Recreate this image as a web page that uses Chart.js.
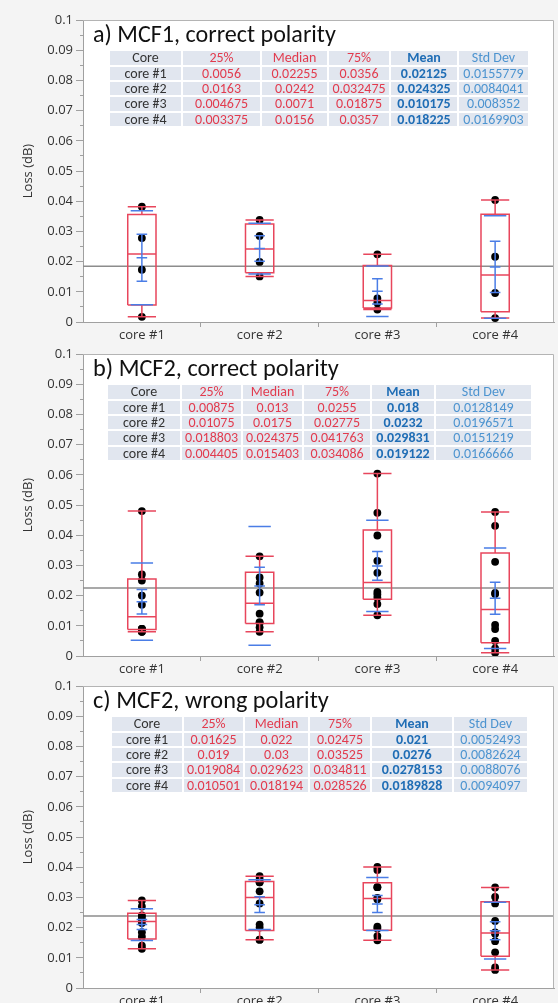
<!DOCTYPE html>
<html><head><meta charset="utf-8">
<script src="https://cdn.jsdelivr.net/npm/chart.js@4.4.1/dist/chart.umd.min.js"></script>
<style>
html,body{margin:0;padding:0;background:#f4f4f4;}
#wrap{position:relative;width:558px;height:1003px;overflow:hidden;}
canvas{position:absolute;left:0;}
.ttl{position:absolute;font-family:Carlito,Lato,sans-serif;color:#111;white-space:nowrap;line-height:1;z-index:2;}
table.st{position:absolute;border-collapse:separate;border-spacing:2px;table-layout:fixed;font-family:Carlito,Lato,sans-serif;font-size:14px;z-index:2;background:#fff;}
table.st td{background:#e1e6ef;text-align:center;padding:0;height:13.3px;line-height:13.3px;white-space:nowrap;overflow:hidden;color:#333;}
td.r{color:#e23b4e!important;}
td.m{color:#1f6db5!important;font-weight:bold;}
td.s{color:#4d94d0!important;}
</style></head>
<body><div id="wrap"></div>
<script>
// ---------- data ----------
const categories = ['core #1','core #2','core #3','core #4'];
const yTickValues = [0,0.01,0.02,0.03,0.04,0.05,0.06,0.07,0.08,0.09,0.1];
const yMinorValues = [0.005,0.015,0.025,0.035,0.045,0.055,0.065,0.075,0.085,0.095];
const panelTitles = ['a) MCF1, correct polarity','b) MCF2, correct polarity','c) MCF2, wrong polarity'];
const tableHeader = ['Core','25%','Median','75%','Mean','Std Dev'];
const yAxisTitle = 'Loss (dB)';

// panel a
const a_q1     = [0.0056, 0.0163, 0.004675, 0.003375];
const a_median = [0.02255, 0.0242, 0.0071, 0.0156];
const a_q3     = [0.0356, 0.032475, 0.01875, 0.0357];
const a_mean   = [0.02125, 0.024325, 0.010175, 0.018225];
const a_sd     = [0.0155779, 0.0084041, 0.008352, 0.0169903];
const a_core1 = [0.0017, 0.0173, 0.0278, 0.0382];
const a_core2 = [0.0151, 0.0199, 0.0285, 0.0338];
const a_core3 = [0.0041, 0.0064, 0.0078, 0.0224];
const a_core4 = [0.0013, 0.0096, 0.0216, 0.0404];

// panel b
const b_q1     = [0.00875, 0.01075, 0.018803, 0.004405];
const b_median = [0.013, 0.0175, 0.024375, 0.015403];
const b_q3     = [0.0255, 0.02775, 0.041763, 0.034086];
const b_mean   = [0.018, 0.0232, 0.029831, 0.019122];
const b_sd     = [0.0128149, 0.0196571, 0.0151219, 0.0166666];
const b_core1 = [0.008, 0.008, 0.009, 0.009, 0.009, 0.017, 0.020, 0.025, 0.027, 0.048];
const b_core2 = [0.008, 0.0095, 0.0112, 0.011, 0.014, 0.021, 0.024, 0.026, 0.033, 0.0743];
const b_core3 = [0.0135, 0.0172, 0.0193, 0.0204, 0.0212, 0.02755, 0.0315, 0.0399, 0.0474, 0.0604];
const b_core4 = [0.0011, 0.0025, 0.005, 0.0089, 0.0103, 0.0205, 0.0209, 0.0312, 0.0431, 0.0477];

// panel c
const c_q1     = [0.01625, 0.019, 0.019084, 0.010501];
const c_median = [0.022, 0.03, 0.029623, 0.018194];
const c_q3     = [0.02475, 0.03525, 0.034811, 0.028526];
const c_mean   = [0.021, 0.0276, 0.0278153, 0.0189828];
const c_sd     = [0.0052493, 0.0082624, 0.0088076, 0.0094097];
const c_core1 = [0.013, 0.014, 0.017, 0.0185, 0.0215, 0.0225, 0.0235, 0.024, 0.027, 0.029];
const c_core2 = [0.016, 0.016, 0.02, 0.021, 0.028, 0.032, 0.035, 0.035, 0.036, 0.037];
const c_core3 = [0.0158, 0.0172, 0.0197, 0.0203, 0.0294, 0.0298, 0.0334, 0.0334, 0.0391, 0.0401];
const c_core4 = [0.006, 0.0068, 0.0118, 0.0155, 0.018, 0.0184, 0.0222, 0.028, 0.0302, 0.0333];

// ---------- layout (positions/styles only) ----------
const PLOT_TOP = 20, PLOT_H = 302, AXIS_W = 83, XAXIS_H = 26, CANVAS_H = 360;
const panels = [
  {title:panelTitles[0], q1:a_q1, med:a_median, q3:a_q3, mean:a_mean, sd:a_sd, pts:[a_core1,a_core2,a_core3,a_core4],
   top:0, titleW:243, cols:[110,183,262,329,391,459,530]},
  {title:panelTitles[1], q1:b_q1, med:b_median, q3:b_q3, mean:b_mean, sd:b_sd, pts:[b_core1,b_core2,b_core3,b_core4],
   top:334, titleW:246, cols:[108,182,243,304,372,436,533]},
  {title:panelTitles[2], q1:c_q1, med:c_median, q3:c_q3, mean:c_mean, sd:c_sd, pts:[c_core1,c_core2,c_core3,c_core4],
   top:666, titleW:236, cols:[112,184,245,310,372,454,529]}
];
const RED = '#e8465c', BLUE = '#4a7de6';
const tickFont = {family:"'Open Sans', sans-serif", size:13};

const bgPlugin = {
  id:'bg',
  beforeDraw(chart){
    const {ctx, chartArea:a} = chart;
    ctx.save(); ctx.fillStyle = '#fff';
    ctx.fillRect(a.left, a.top, a.right - a.left, a.bottom - a.top);
    ctx.restore();
  },
  afterDraw(chart){
    const {ctx, chartArea:a} = chart;
    ctx.save(); ctx.strokeStyle = '#b4b4b4'; ctx.lineWidth = 1;
    ctx.beginPath();
    ctx.moveTo(a.left, a.top + 0.5); ctx.lineTo(a.right - 0.5, a.top + 0.5); ctx.lineTo(a.right - 0.5, a.bottom);
    ctx.stroke(); ctx.restore();
  }
};

const wrap = document.getElementById('wrap');
const mctx = document.createElement('canvas').getContext('2d');
function fitSize(text, fam, target){
  mctx.font = '100px ' + fam;
  return 100 * target / mctx.measureText(text).width;
}

panels.forEach((P) => {
  const cv = document.createElement('canvas');
  cv.width = 558; cv.height = CANVAS_H; cv.style.top = P.top + 'px';
  wrap.appendChild(cv);

  const allPts = [], all = [];
  P.pts.forEach((arr, i) => arr.forEach(v => { allPts.push({x:i + 0.5, y:v}); all.push(v); }));
  const gm = all.reduce((s, v) => s + v, 0) / all.length;

  const red = [], blue = [];
  const gap = x => ({x, y:null});
  const hb = 0.12, hs = 0.095, hc = 0.045;
  for (let i = 0; i < categories.length; i++) {
    const c = i + 0.5, q1 = P.q1[i], q3 = P.q3[i], md = P.med[i];
    const iqr = q3 - q1, arr = P.pts[i];
    const inF = arr.filter(v => v >= q1 - 1.5 * iqr && v <= q3 + 1.5 * iqr);
    const lo = Math.min(...inF), hi = Math.max(...inF);
    red.push({x:c-hb,y:q1},{x:c+hb,y:q1},{x:c+hb,y:q3},{x:c-hb,y:q3},{x:c-hb,y:q1},gap(c));
    red.push({x:c-hb,y:md},{x:c+hb,y:md},gap(c));
    red.push({x:c,y:q3},{x:c,y:hi},gap(c));
    red.push({x:c,y:q1},{x:c,y:lo},gap(c));
    red.push({x:c-hb,y:hi},{x:c+hb,y:hi},gap(c));
    red.push({x:c-hb,y:lo},{x:c+hb,y:lo},gap(c));
    const m = P.mean[i], sd = P.sd[i], se = sd / Math.sqrt(arr.length);
    blue.push({x:c-hs,y:m+sd},{x:c+hs,y:m+sd},gap(c));
    blue.push({x:c-hs,y:m-sd},{x:c+hs,y:m-sd},gap(c));
    blue.push({x:c,y:m-se},{x:c,y:m+se},gap(c));
    blue.push({x:c-hc,y:m+se},{x:c+hc,y:m+se},gap(c));
    blue.push({x:c-hc,y:m-se},{x:c+hc,y:m-se},gap(c));
    blue.push({x:c-hc,y:m},{x:c+hc,y:m},gap(c));
  }

  new Chart(cv, {
    type:'line',
    data:{datasets:[
      {data:[{x:0,y:gm},{x:4,y:gm}], borderColor:'#8c8c8c', borderWidth:1.5, pointRadius:0, order:5},
      {data:allPts, showLine:false, pointRadius:3.9, pointBackgroundColor:'#000', pointBorderWidth:0, order:4},
      {data:red, borderColor:RED, borderWidth:1.5, pointRadius:0, spanGaps:false, order:2},
      {data:blue, borderColor:BLUE, borderWidth:1.5, pointRadius:0, spanGaps:false, order:1}
    ]},
    options:{
      responsive:false, animation:false, devicePixelRatio:1,
      layout:{padding:{top:PLOT_TOP, right:1, left:0, bottom:CANVAS_H - PLOT_TOP - PLOT_H - XAXIS_H}},
      plugins:{legend:{display:false}, tooltip:{enabled:false}},
      scales:{
        x:{type:'linear', min:0, max:4,
          afterBuildTicks:s => { s.ticks = [0,0.5,1,1.5,2,2.5,3,3.5,4].map(v => ({value:v})); },
          ticks:{autoSkip:false, maxRotation:0, padding:0, color:'#333', font:tickFont,
            callback:v => (Math.abs(v - Math.floor(v) - 0.5) < 1e-6) ? categories[Math.floor(v)] : ''},
          grid:{drawOnChartArea:false, tickLength:5,
            tickColor:ctx => (ctx.tick && Number.isInteger(ctx.tick.value) && ctx.tick.value > 0 && ctx.tick.value < 4) ? '#a0a0a0' : 'rgba(0,0,0,0)'},
          border:{color:'#a0a0a0', width:1},
          afterFit:s => { s.height = XAXIS_H; }
        },
        y:{type:'linear', min:0, max:0.1, weight:1,
          afterBuildTicks:s => { s.ticks = yTickValues.map(v => ({value:v})); },
          ticks:{padding:3, color:'#333', font:tickFont,
            callback:v => v === 0 ? '0' : (+v.toFixed(2)).toString()},
          grid:{drawOnChartArea:false, tickLength:7, tickColor:'#a0a0a0'},
          border:{color:'#a0a0a0', width:1},
          title:{display:true, text:yAxisTitle, color:'#333', font:{family:"'Open Sans', sans-serif", size:13}, padding:{top:20, bottom:0}},
          afterFit:s => { s.width = AXIS_W; }
        },
        ym:{type:'linear', min:0, max:0.1, position:'left', weight:0,
          afterBuildTicks:s => { s.ticks = yMinorValues.map(v => ({value:v})); },
          ticks:{display:false},
          grid:{drawOnChartArea:false, tickLength:3, tickColor:'#a0a0a0'},
          border:{display:false},
          afterFit:s => { s.width = 0; }
        }
      }
    },
    plugins:[bgPlugin]
  });

  // title
  const fam = "Carlito, Lato, sans-serif";
  const t = document.createElement('div');
  t.className = 'ttl'; t.textContent = P.title;
  const fs = fitSize(P.title, fam, P.titleW);
  t.style.fontSize = fs.toFixed(2) + 'px';
  t.style.left = '93px';
  t.style.top = (P.top + PLOT_TOP + 15 - fs * 0.55).toFixed(1) + 'px';
  wrap.appendChild(t);

  // table
  const tb = document.createElement('table'); tb.className = 'st';
  const cg = document.createElement('colgroup');
  for (let k = 0; k < 6; k++) { const col = document.createElement('col'); col.style.width = (P.cols[k+1] - P.cols[k] - 2) + 'px'; cg.appendChild(col); }
  tb.appendChild(cg);
  const cls = ['', 'r', 'r', 'r', 'm', 's'];
  const rows = [tableHeader];
  for (let i = 0; i < categories.length; i++) rows.push([categories[i], String(P.q1[i]), String(P.med[i]), String(P.q3[i]), String(P.mean[i]), String(P.sd[i])]);
  rows.forEach(r => {
    const tr = document.createElement('tr');
    r.forEach((txt, k) => { const td = document.createElement('td'); td.textContent = txt; if (cls[k]) td.className = cls[k]; tr.appendChild(td); });
    tb.appendChild(tr);
  });
  tb.style.left = (P.cols[0] - 2) + 'px';
  tb.style.top = (P.top + PLOT_TOP + 38 - 6.65 - 2) + 'px';
  wrap.appendChild(tb);
});
</script>
</body></html>
